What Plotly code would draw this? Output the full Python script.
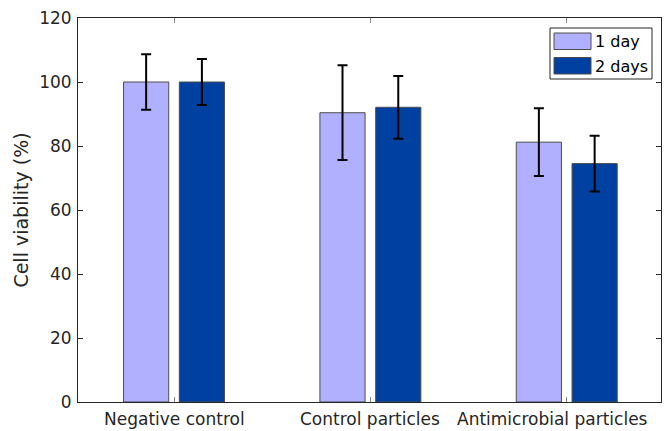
import plotly.graph_objects as go

categories = ["Negative control", "Control particles", "Antimicrobial particles"]
series_names = ["1 day", "2 days"]
day1_values = [100.0, 90.4, 81.2]
day1_errors = [8.7, 14.8, 10.6]
day2_values = [100.0, 92.1, 74.5]
day2_errors = [7.2, 9.8, 8.7]
y_ticks = [0, 20, 40, 60, 80, 100, 120]

colors = ["#B0B0FF", "#0040A0"]
positions = [1, 2, 3]
bar_width = 0.23
offsets = [-0.142 - bar_width / 2, 0.142 - bar_width / 2]

FONT = "DejaVu Sans, Arial, sans-serif"
AXIS_COLOR = "#262626"

fig = go.Figure()
for name, vals, errs, col, off in zip(series_names, [day1_values, day2_values],
                                      [day1_errors, day2_errors], colors, offsets):
    fig.add_trace(go.Bar(
        x=positions, y=vals, name=name, width=bar_width, offset=off,
        marker=dict(color=col, line=dict(color="#4d4d4d", width=1)),
        error_y=dict(type="data", array=errs, visible=True, color="black",
                     thickness=2, width=5),
        showlegend=False,
    ))

# Custom legend (box with large swatches, as in the original)
W, H = 583.0, 384.0
def px_x(p):
    return (p - 78) / W
def px_y(p):
    return (402 - p) / H

shapes = [dict(type="rect", xref="paper", yref="paper",
               x0=px_x(550), x1=px_x(652), y0=px_y(79), y1=px_y(28),
               line=dict(color=AXIS_COLOR, width=1), fillcolor="white", layer="above")]
annotations = []
for i, (name, col) in enumerate(zip(series_names, colors)):
    top = 33 + i * 24.5
    shapes.append(dict(type="rect", xref="paper", yref="paper",
                       x0=px_x(554), x1=px_x(591), y0=px_y(top + 16.5), y1=px_y(top),
                       line=dict(color="#4d4d4d", width=1), fillcolor=col, layer="above"))
    annotations.append(dict(xref="paper", yref="paper", x=px_x(593), y=px_y(top + 8.5),
                            text=name, showarrow=False, xanchor="left", yanchor="middle",
                            font=dict(family=FONT, size=16, color="black")))

# Category labels under the axis (the last one is kept inside the figure, as in the original)
for i, (pos, cat) in enumerate(zip(positions, categories)):
    last = i == len(categories) - 1
    annotations.append(dict(
        xref="paper" if last else "x", yref="paper",
        x=px_x(650) if last else pos, y=0,
        text=cat, showarrow=False,
        xanchor="right" if last else "center", yanchor="top", yshift=-5,
        font=dict(family=FONT, size=17, color=AXIS_COLOR),
    ))

fig.update_layout(
    width=666, height=431,
    margin=dict(l=78, r=5, t=18, b=29),
    paper_bgcolor="white", plot_bgcolor="white",
    barmode="overlay",
    font=dict(family=FONT, size=17, color=AXIS_COLOR),
    shapes=shapes, annotations=annotations,
    xaxis=dict(
        range=[0.511, 3.48], tickmode="array", tickvals=positions,
        showticklabels=False,
        ticks="inside", ticklen=5, tickcolor="#888888", tickwidth=1,
        showline=True, linecolor=AXIS_COLOR, linewidth=1, mirror="ticks",
        showgrid=False, zeroline=False, automargin=False,
    ),
    yaxis=dict(
        range=[0, 120], tickmode="array", tickvals=y_ticks,
        ticks="inside", ticklen=5, tickcolor=AXIS_COLOR, tickwidth=1,
        showline=True, linecolor=AXIS_COLOR, linewidth=1, mirror="ticks",
        showgrid=False, zeroline=False, automargin=False,
        ticklabelstandoff=2,
        tickfont=dict(family=FONT, size=17, color=AXIS_COLOR),
        title=dict(text="Cell viability (%)", font=dict(family=FONT, size=19, color=AXIS_COLOR),
                   standoff=5),
    ),
)

fig.write_html("out.html", config={"displayModeBar": False},
               post_script="document.body.style.margin='0px';")
